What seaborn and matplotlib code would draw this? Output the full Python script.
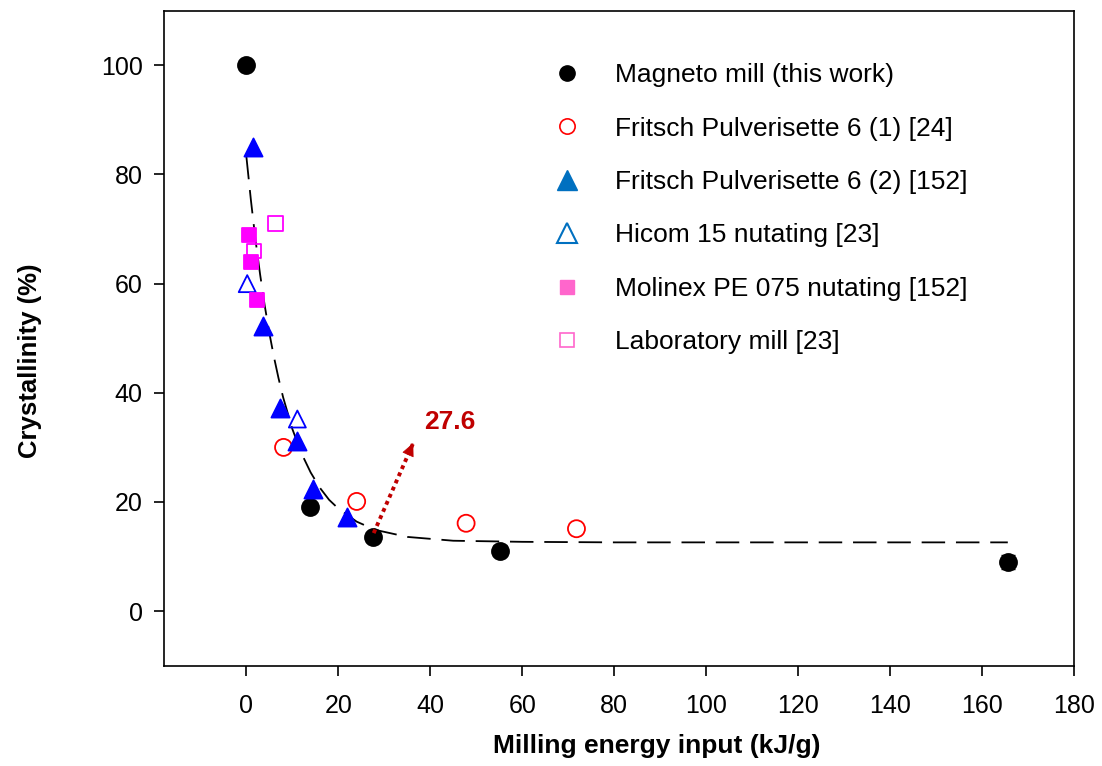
import matplotlib
matplotlib.use("Agg")
import matplotlib.pyplot as plt
from matplotlib.lines import Line2D
import seaborn as sns
import pandas as pd

# Magneto mill (this work)
magneto_x = [0.0, 13.8, 27.6, 55.2, 165.6]
magneto_y = [100.0, 19.0, 13.5, 11.1, 9.0]
magneto_err = [0.5, 0.6, 0.8, 1.0, 1.3]

# Fritsch Pulverisette 6 (1) [24]
fritsch1_x = [8.1, 24.0, 47.8, 71.8]
fritsch1_y = [30.0, 20.1, 16.1, 15.1]

# Fritsch Pulverisette 6 (2) [152]
fritsch2_x = [1.4, 3.6, 7.3, 11.0, 14.6, 21.8]
fritsch2_y = [85.0, 52.2, 37.3, 31.2, 22.4, 17.2]

# Hicom 15 nutating [23]
hicom_x = [0.2, 11.1]
hicom_y = [60.0, 35.2]

# Molinex PE 075 nutating [152]
molinex_x = [0.6, 1.1, 2.3]
molinex_y = [69.0, 64.0, 57.0]

# Laboratory mill [23]
lab_x = [6.4, 1.7]
lab_y = [71.0, 66.0]

# dashed trend line
fit_x = [0, 1, 2, 3, 4, 5, 6, 7, 8, 10, 12, 14, 16, 18, 20, 24, 28, 35, 45, 60, 80, 120, 165.6]
fit_y = [83.4, 75.3, 68.0, 61.7, 56.0, 51.0, 46.6, 42.7, 39.2, 33.4, 28.9, 25.4,
         22.6, 20.4, 18.8, 16.4, 14.9, 13.6, 12.9, 12.7, 12.6, 12.6, 12.6]

# arrow (start, tip) and its label
arrow_start = (27.7, 14.3)
arrow_tip = (36.3, 30.8)
arrow_label = "27.6"

labels = [
    "Magneto mill (this work)",
    "Fritsch Pulverisette 6 (1) [24]",
    "Fritsch Pulverisette 6 (2) [152]",
    "Hicom 15 nutating [23]",
    "Molinex PE 075 nutating [152]",
    "Laboratory mill [23]",
]

sns.set_style("ticks")
plt.rcParams["font.family"] = ["Liberation Sans", "DejaVu Sans"]
for key in ["text.color", "axes.labelcolor", "xtick.color", "ytick.color", "axes.edgecolor"]:
    plt.rcParams[key] = "black"

fig = plt.figure(figsize=(11.02, 7.66), dpi=100)
ax = fig.add_axes([0.1484, 0.1309, 0.8262, 0.8551])

# trend line
fit_df = pd.DataFrame({"x": fit_x, "y": fit_y})
sns.lineplot(data=fit_df, x="x", y="y", ax=ax, color="black", lw=1.3,
             dashes=False, sort=False, zorder=1)
ax.lines[-1].set_dashes((13, 6))

# error bars for the magneto mill points
ax.errorbar(magneto_x, magneto_y, yerr=magneto_err, fmt="none",
            ecolor="black", elinewidth=1.0, capsize=5, zorder=2)

def scatter(xs, ys, marker, face, edge, size, lw=1.3):
    sns.scatterplot(x=xs, y=ys, ax=ax, marker=marker, s=size,
                    facecolor=face, edgecolor=edge, linewidth=lw, zorder=3)

scatter(magneto_x, magneto_y, "o", "black", "black", 150)
scatter(fritsch1_x, fritsch1_y, "o", "none", "#FF0000", 150)
scatter(fritsch2_x, fritsch2_y, "^", "#0000FF", "#0000FF", 170)
scatter(hicom_x, hicom_y, "^", "none", "#0000FF", 150)
scatter(molinex_x, molinex_y, "s", "#FF00FF", "#FF00FF", 110)
scatter(lab_x, lab_y, "s", "none", "#FF00FF", 110)

# arrow marking 27.6 kJ/g: dotted shaft plus solid head
ax.plot([arrow_start[0], arrow_tip[0]], [arrow_start[1], arrow_tip[1]],
        color="#C00000", lw=2.8, ls=(0, (1, 1)), zorder=4)
ax.annotate("", xy=arrow_tip, xytext=(arrow_tip[0] - 0.9, arrow_tip[1] - 1.7),
            arrowprops=dict(arrowstyle="-|>,head_length=0.85,head_width=0.4",
                            color="#C00000", lw=0.5, shrinkA=0, shrinkB=0),
            zorder=5)
ax.text(38.6, 34.6, arrow_label, color="#C00000", fontsize=19, fontweight="bold",
        va="center", ha="left")

# legend
handles = [
    Line2D([], [], ls="none", marker="o", ms=11, mfc="black", mec="black"),
    Line2D([], [], ls="none", marker="o", ms=11, mfc="none", mec="#FF0000", mew=1.2),
    Line2D([], [], ls="none", marker="^", ms=14, mfc="#0070C0", mec="#0070C0"),
    Line2D([], [], ls="none", marker="^", ms=14, mfc="none", mec="#0070C0", mew=1.5),
    Line2D([], [], ls="none", marker="s", ms=10.5, mfc="#FF66CC", mec="#FF66CC"),
    Line2D([], [], ls="none", marker="s", ms=10.5, mfc="none", mec="#FF66CC", mew=1.2),
]
ax.legend(handles, labels, loc="upper left", bbox_to_anchor=(0.41, 0.936),
          frameon=False, fontsize=19, labelspacing=1.115, handletextpad=1.07,
          handlelength=1.5, borderaxespad=0)

ax.set_xlim(-18, 180)
ax.set_ylim(-10, 110)
ax.set_xticks(range(0, 181, 20))
ax.set_yticks(range(0, 101, 20))
ax.tick_params(axis="both", direction="out", length=7, width=1.2,
               labelsize=18, pad=8, top=False, right=False)
ax.tick_params(axis="x", pad=13)
for sp in ax.spines.values():
    sp.set_visible(True)
    sp.set_linewidth(1.2)

ax.set_xlabel("Milling energy input (kJ/g)", fontsize=19, fontweight="bold")
ax.set_ylabel("Crystallinity (%)", fontsize=18.5, fontweight="bold")
ax.xaxis.set_label_coords(0.542, -0.104)
ax.yaxis.set_label_coords(-0.134, 0.465)

fig.savefig("out.png", dpi=100)
